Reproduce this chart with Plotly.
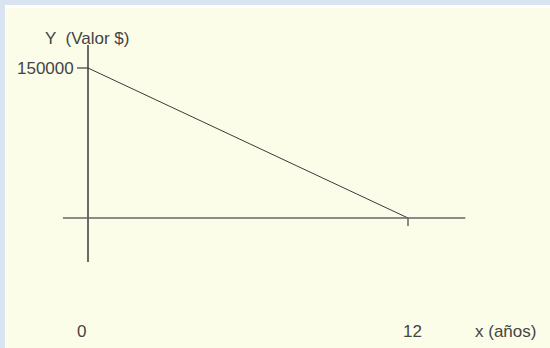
import plotly.graph_objects as go

# Straight-line depreciation: value in dollars over the years
years = [0, 12]
value = [150000, 0]
x_tick_labels = ["0", "12"]
y_tick_label = "150000"
x_title = "x (años)"
y_title = "Y  (Valor $)"

W, H = 550, 348
# pixel <-> data mapping for the plot area
px_per_year = (408 - 88) / 12
px_per_dollar = (218 - 68) / 150000
x_range = [-88 / px_per_year, (W - 88) / px_per_year]
y_range = [-(H - 218) / px_per_dollar, 218 / px_per_dollar]

ink = "#3a3a3a"
font = dict(family="Liberation Sans, Arial, sans-serif", size=17, color="#444444")

fig = go.Figure()
fig.add_trace(go.Scatter(x=years, y=value, mode="lines",
                         line=dict(color=ink, width=1), hoverinfo="skip"))

shapes = [
    # panel background
    dict(type="rect", xref="paper", yref="paper", x0=5 / W, x1=1, y0=0, y1=1 - 5 / H,
         fillcolor="white", line_width=0, layer="below"),
    dict(type="rect", xref="paper", yref="paper", x0=6 / W, x1=1, y0=0, y1=1 - 8 / H,
         fillcolor="#fbfde9", line_width=0, layer="below"),
    # axes
    dict(type="line", x0=0, x1=0, y0=-44000, y1=173000,
         line=dict(color=ink, width=1.5)),
    dict(type="line", x0=-0.94, x1=14.15, y0=0, y1=0,
         line=dict(color="#666666", width=1.6)),
    # ticks
    dict(type="line", x0=-11 / px_per_year, x1=0, y0=value[0], y1=value[0],
         line=dict(color=ink, width=1.2)),
    dict(type="line", x0=years[1], x1=years[1], y0=0, y1=-8 / px_per_dollar,
         line=dict(color="#666666", width=1.5)),
]

annotations = [
    dict(x=-12 / px_per_year, y=value[0], text=y_tick_label, xanchor="right",
         yanchor="middle", showarrow=False),
    dict(x=(87 - 88) / px_per_year, y=(218 - 38) / px_per_dollar, text=y_title,
         xanchor="center", yanchor="middle", showarrow=False),
    dict(x=years[0] - 7 / px_per_year, y=-(331 - 218) / px_per_dollar, text=x_tick_labels[0],
         xanchor="center", yanchor="middle", showarrow=False),
    dict(x=years[1] + 4 / px_per_year, y=-(331 - 218) / px_per_dollar, text=x_tick_labels[1],
         xanchor="center", yanchor="middle", showarrow=False),
    dict(x=(505 - 88) / px_per_year, y=-(331 - 218) / px_per_dollar, text=x_title,
         xanchor="center", yanchor="middle", showarrow=False),
]

fig.update_layout(
    width=W, height=H,
    margin=dict(l=0, r=0, t=0, b=0),
    paper_bgcolor="#d9e4f0",
    plot_bgcolor="rgba(0,0,0,0)",
    showlegend=False,
    font=font,
    shapes=shapes,
    annotations=annotations,
    xaxis=dict(range=x_range, visible=False, fixedrange=True),
    yaxis=dict(range=y_range, visible=False, fixedrange=True),
)

fig.write_html("out.html", config={"displayModeBar": False})
